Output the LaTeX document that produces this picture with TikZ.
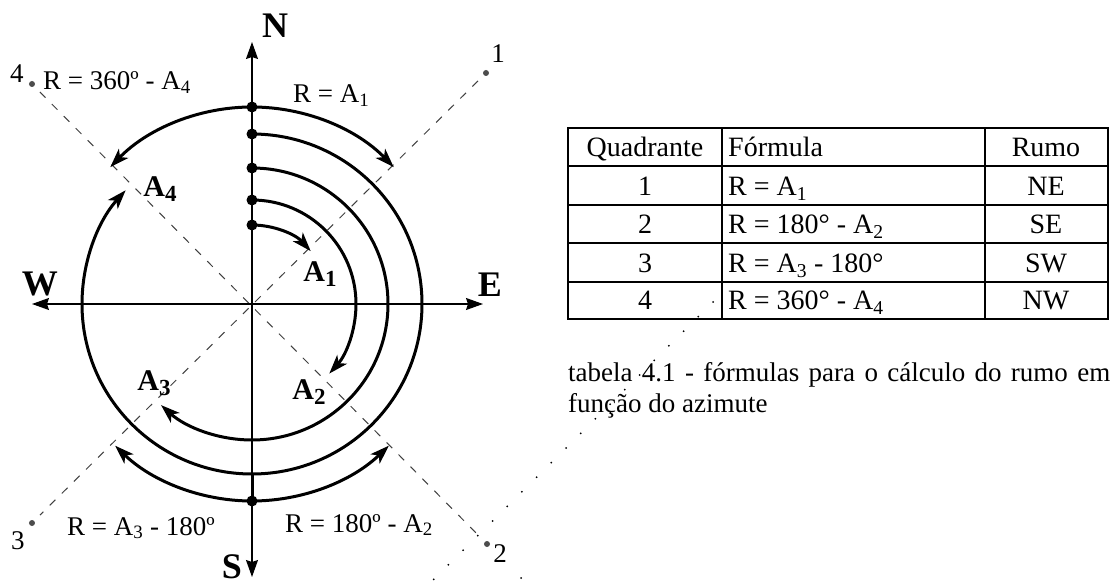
\documentclass[tikz,border=0pt]{standalone}
\usepackage{fontspec}
\setmainfont{Liberation Serif}
\usetikzlibrary{arrows.meta}
\newcommand{\bsub}[1]{\raisebox{-5pt}{\fontsize{23}{23}\selectfont #1}}
\begin{document}
\begin{tikzpicture}[x=1pt,y=1pt,
  txt/.style={font=\fontsize{27}{31}\selectfont, inner sep=0pt},
  tabtxt/.style={font=\fontsize{28}{31}\selectfont, inner sep=0pt},
  bigbold/.style={font=\fontsize{36}{40}\selectfont\bfseries, inner sep=0pt},
  anglab/.style={font=\fontsize{30}{34}\selectfont\bfseries, inner sep=0pt},
  axisline/.style={line width=1.3pt, -{Stealth[length=17pt,width=12pt,inset=2pt]}},
  curvearrow/.style={line width=3pt, -{Stealth[length=19pt,width=13pt,inset=5pt]}},
  blackdot/.style={circle, fill=black, inner sep=0pt, minimum size=11pt},
  greydot/.style={circle, fill=black!70, inner sep=0pt, minimum size=6pt},
  diag/.style={draw=black!75, line width=1pt, dash pattern=on 8pt off 9pt},
  tabline/.style={line width=1.3pt},
]
\useasboundingbox (-252,-282) rectangle (861,304);

% diagonals
\node[greydot] (p1) at (234,231) {};
\node[greydot] (p2) at (235,-240) {};
\node[greydot] (p3) at (-220,-219) {};
\node[greydot] (p4) at (-220,220) {};
\draw[diag, shorten <=8pt, shorten >=8pt] (p1) -- (p3);
\draw[diag, shorten <=8pt, shorten >=8pt] (p4) -- (p2);

% axes
\coordinate (O) at (0,0);
\coordinate (Ntip) at (0,262);
\coordinate (Stip) at (0,-273);
\coordinate (Wtip) at (-220,0);
\coordinate (Etip) at (231,0);
\draw[axisline] (O) -- (Ntip);
\draw[axisline] (O) -- (Stip);
\draw[axisline] (O) -- (Wtip);
\draw[axisline] (O) -- (Etip);

% dots
\node[blackdot] (d5) at (0,197) {};
\node[blackdot] (d4) at (0,170) {};
\node[blackdot] (d3) at (0,136) {};
\node[blackdot] (d2) at (0,104) {};
\node[blackdot] (d1) at (0,79) {};
\node[blackdot] (ds) at (0,-197) {};
\coordinate (s4) at (0,-170);

% arcs
\draw[curvearrow] (d1.center) arc[start angle=90, end angle=42, radius=79];
\draw[curvearrow] (d2.center) arc[start angle=90, end angle=-42, radius=104];
\draw[curvearrow] (d3.center) arc[start angle=90, end angle=-132, radius=136];
\draw[curvearrow] (d4.center) arc[start angle=90, end angle=-222, radius=170];
\draw[curvearrow] (d5.center) arc[start angle=90, end angle=44, radius=197];
\draw[curvearrow] (d5.center) arc[start angle=90, end angle=136, radius=197];
\draw[curvearrow] (ds.center) arc[start angle=270, end angle=226, radius=197];
\draw[curvearrow] (ds.center) arc[start angle=-90, end angle=-46, radius=197];
\draw[line width=3pt] (ds.center) -- (s4);

% compass letters
\node[bigbold] (Nl) at (23,278) {N};
\node[bigbold] (Wl) at (-212,20) {W};
\node[bigbold] (El) at (238,19) {E};
\node[bigbold] (Sl) at (-20,-263) {S};

% quadrant numbers
\node[txt] (n1) at (246,250) {1};
\node[txt] (n2) at (248,-250) {2};
\node[txt] (n3) at (-234,-237) {3};
\node[txt] (n4) at (-235,230) {4};

% formulas
\node[txt, anchor=base west] (f4) at (-209,214) {R = 360º - A\textsubscript{4}};
\node[txt, anchor=base west] (f1) at (41,201) {R = A\textsubscript{1}};
\node[txt, anchor=base west] (f3) at (-185,-231) {R = A\textsubscript{3} - 180º};
\node[txt, anchor=base west] (f2) at (33,-228) {R = 180º - A\textsubscript{2}};

% angle labels
\node[anglab, anchor=base] (a1) at (68,22) {A\bsub{1}};
\node[anglab, anchor=base] (a2) at (57,-95) {A\bsub{2}};
\node[anglab, anchor=base] (a3) at (-98,-86) {A\bsub{3}};
\node[anglab, anchor=base] (a4) at (-92,107) {A\bsub{4}};

% table
\draw[tabline] (316,176) rectangle (856,-15);
\foreach \yy in {138,99,61,22} \draw[tabline] (316,\yy) -- (856,\yy);
\draw[tabline] (470,176) -- (470,-15);
\draw[tabline] (733,176) -- (733,-15);

\node[tabtxt, anchor=base] (h1) at (393,147) {Quadrante};
\node[tabtxt, anchor=base west] (h2) at (476,147) {Fórmula};
\node[tabtxt, anchor=base] (h3) at (794,147) {Rumo};

\node[tabtxt, anchor=base] (q1) at (393,108) {1};
\node[tabtxt, anchor=base west] (r1) at (476,108) {R = A\textsubscript{1}};
\node[tabtxt, anchor=base] (m1) at (794,108) {NE};

\node[tabtxt, anchor=base] (q2) at (393,70) {2};
\node[tabtxt, anchor=base west] (r2) at (476,70) {R = 180° - A\textsubscript{2}};
\node[tabtxt, anchor=base] (m2) at (794,70) {SE};

\node[tabtxt, anchor=base] (q3) at (393,31) {3};
\node[tabtxt, anchor=base west] (r3) at (476,31) {R = A\textsubscript{3} - 180°};
\node[tabtxt, anchor=base] (m3) at (794,31) {SW};

\node[tabtxt, anchor=base] (q4) at (393,-6) {4};
\node[tabtxt, anchor=base west] (r4) at (476,-6) {R = 360° - A\textsubscript{4}};
\node[tabtxt, anchor=base] (m4) at (794,-6) {NW};

% caption
\node[txt, anchor=north west, text width=542pt, align=justify] (cap) at (316,-58)
  {tabela 4.1 - fórmulas para o cálculo do rumo em\linebreak função do azimute};

% stray dotted trace
\foreach \i in {0,...,19} \fill ({461-14.7*\i},{2-14.6*\i}) circle (1pt);
\fill (269,-274) circle (1pt);
\end{tikzpicture}
\end{document}
